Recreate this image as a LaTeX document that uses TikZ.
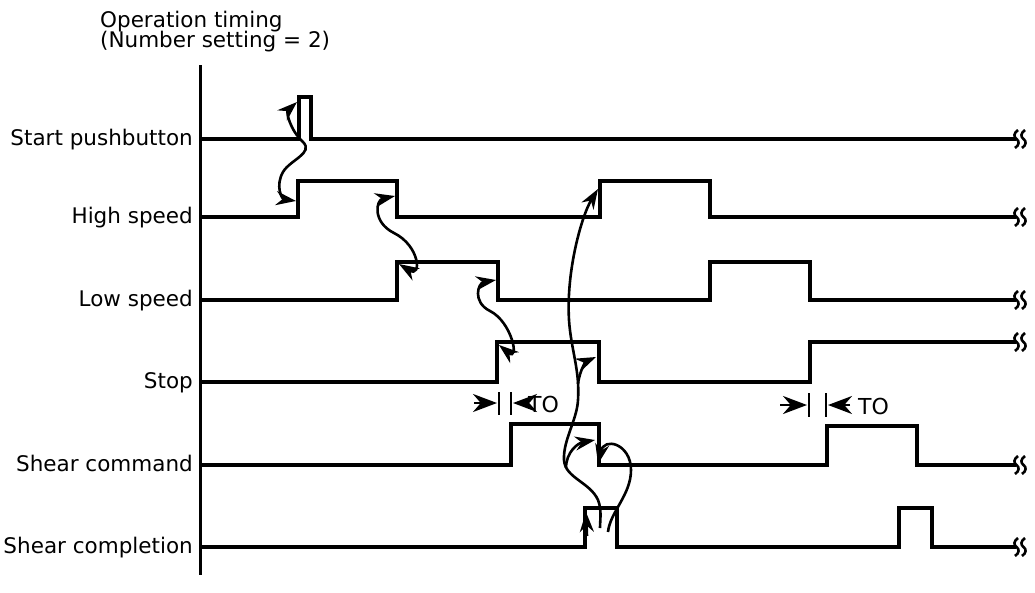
\documentclass[tikz,border=0pt]{standalone}
\usepackage{fontspec}
\setmainfont{DejaVu Sans}
\usetikzlibrary{arrows.meta}
\begin{document}
\begin{tikzpicture}[x=1pt,y=-1pt,
  sig/.style={line width=3.2pt, line join=miter},
  axisline/.style={line width=3pt},
  tipA/.tip={Stealth[length=20pt,width=14pt]},
  cause/.style={line width=2.6pt, tipA-tipA},
  causeto/.style={line width=2.6pt, -tipA},
  causefrom/.style={line width=2.6pt, tipA-},
  lbl/.style={anchor=base east, inner sep=0pt, font=\fontsize{21.5}{24}\selectfont},
  ttl/.style={anchor=base west, inner sep=0pt, font=\fontsize{21.5}{24}\selectfont},
  tolbl/.style={anchor=west, inner sep=0pt, font=\fontsize{22}{24}\selectfont},
  tick/.style={line width=2.6pt},
  toarrow/.style={line width=2.6pt, -{Stealth[length=24pt,width=18pt]}},
  squig/.pic={
    \draw[line width=2.6pt] (2,-9) .. controls (-2.5,-6) and (-2.5,-2) .. (0.5,0) .. controls (3.5,2) and (3.5,6) .. (-1,9);
    \draw[line width=2.6pt] (9,-9) .. controls (4.5,-6) and (4.5,-2) .. (7.5,0) .. controls (10.5,2) and (10.5,6) .. (6,9);
  }]
\useasboundingbox (0,0) rectangle (1035,592);

% title
\node[ttl] (t1) at (100,27) {Operation timing};
\node[ttl] (t2) at (100,47) {(Number setting = 2)};

% axis
\draw[axisline] (200,65) -- (200,575);

% labels
\node[lbl] (lstart) at (193,145) {Start pushbutton};
\node[lbl] (lhigh)  at (193,223) {High speed};
\node[lbl] (llow)   at (193,306) {Low speed};
\node[lbl] (lstop)  at (193,388) {Stop};
\node[lbl] (lcmd)   at (193,471) {Shear command};
\node[lbl] (lcomp)  at (193,553) {Shear completion};

% waveforms
\draw[sig] (200,139) -- (299,139) -- (299,97) -- (311,97) -- (311,139) -- (1016,139);
\draw[sig] (200,217) -- (298,217) -- (298,181) -- (397,181) -- (397,217) -- (600,217) -- (600,181) -- (710,181) -- (710,217) -- (1016,217);
\draw[sig] (200,300) -- (397,300) -- (397,262) -- (498,262) -- (498,300) -- (710,300) -- (710,262) -- (810,262) -- (810,300) -- (1016,300);
\draw[sig] (200,382) -- (497,382) -- (497,342) -- (599,342) -- (599,382) -- (810,382) -- (810,342) -- (1016,342);
\draw[sig] (200,465) -- (511,465) -- (511,424) -- (599,424) -- (599,465) -- (827,465) -- (827,426) -- (917,426) -- (917,465) -- (1016,465);
\draw[sig] (200,547) -- (585,547) -- (585,508) -- (617,508) -- (617,547) -- (899,547) -- (899,508) -- (932,508) -- (932,547) -- (1016,547);

% break marks
\foreach \yy in {139,217,300,342,465,547} { \pic at (1016,\yy) {squig}; }

% edge coordinates
\coordinate (startup) at (297,102);
\coordinate (highup)  at (296,201);
\coordinate (highdn)  at (395,196);
\coordinate (lowup)   at (399,264);
\coordinate (lowdn)   at (496,280);
\coordinate (stopup)  at (499,345);
\coordinate (high2up) at (598,189);
\coordinate (stopdn)  at (596,357);
\coordinate (cmddn)   at (595,440);
\coordinate (cmdcorner) at (598,464);
\coordinate (compin)  at (600,528);
\coordinate (compin2) at (608,532);

% causal arrows
\draw[cause] (startup) .. controls (286,112) and (290,130) .. (303,142) .. controls (314,153) and (290,160) .. (283,172) .. controls (275,186) and (282,199) .. (highup);
\draw[cause] (highdn) .. controls (376,200) and (372,222) .. (394,233) .. controls (420,246) and (422,278) .. (lowup);
\draw[cause] (lowdn) .. controls (478,283) and (472,302) .. (490,311) .. controls (512,322) and (520,362) .. (stopup);

\draw[causefrom] (high2up) .. controls (582,215) and (566,270) .. (569,320) .. controls (571,350) and (580,370) .. (578,400) .. controls (577,420) and (563,440) .. (564,460) .. controls (565,478) and (590,482) .. (598,500) .. controls (602,510) and (600,520) .. (compin);
\draw[causeto] (578,384) .. controls (580,368) and (587,361) .. (stopdn);
\draw[causeto] (566,468) .. controls (566,452) and (578,443) .. (cmddn);
\draw[causeto] (compin2) .. controls (610,512) and (631,495) .. (631,470) .. controls (631,444) and (604,436) .. (cmdcorner);
\draw[causeto] (587,536) -- (586,512);

% TO markers
\draw[toarrow] (474,403) -- (497,403);
\draw[tick] (499,392) -- (499,415);
\draw[tick] (511,392) -- (511,415);
\draw[toarrow] (527,403) -- (513,403);
\node[tolbl] (to1) at (528,404) {TO};

\draw[toarrow] (780,405) -- (807,405);
\draw[tick] (809,393) -- (809,417);
\draw[tick] (826,393) -- (826,417);
\draw[toarrow] (850,405) -- (828,405);
\node[tolbl] (to2) at (858,406) {TO};
\end{tikzpicture}
\end{document}
